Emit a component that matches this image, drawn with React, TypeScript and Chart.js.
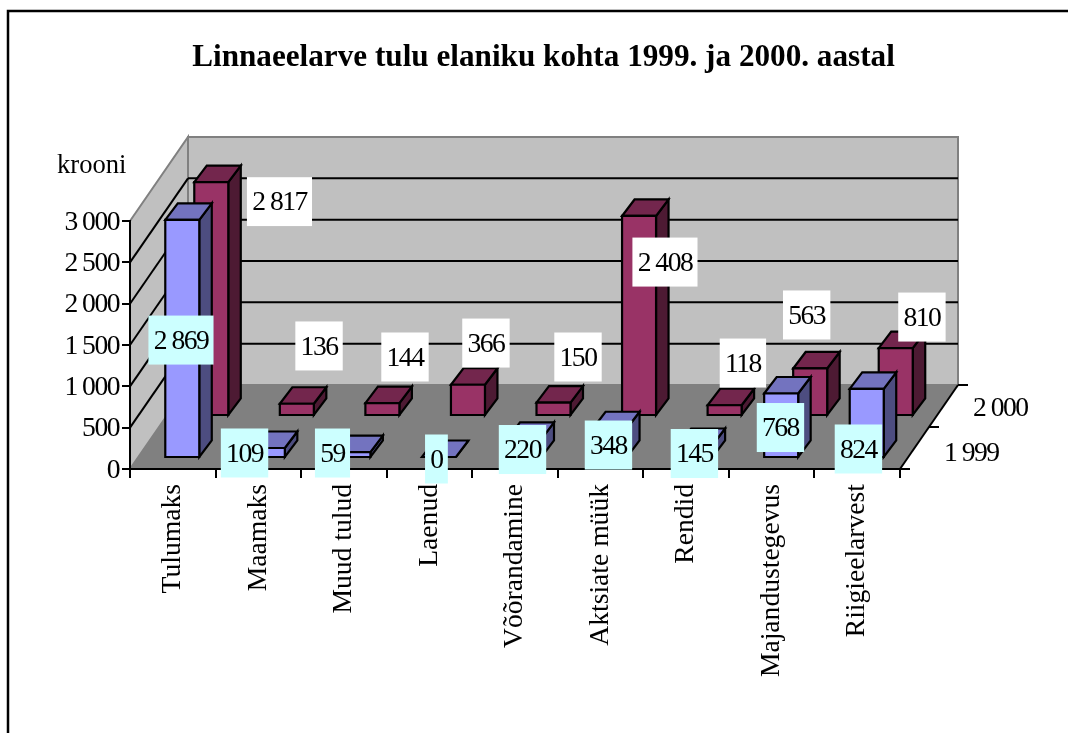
import React, { useEffect, useRef } from "react";
import { Chart, registerables } from "chart.js";

Chart.register(...registerables);

const categories = ["Tulumaks", "Maamaks", "Muud tulud", "Laenud", "Võõrandamine", "Aktsiate müük", "Rendid", "Majandustegevus", "Riigieelarvest"];
const values1999 = [2869, 109, 59, 0, 220, 348, 145, 768, 824];
const values2000 = [2817, 136, 144, 366, 150, 2408, 118, 563, 810];
const seriesNames = ["1 999", "2 000"];
const titleText = "Linnaeelarve tulu elaniku kohta 1999. ja 2000. aastal";
const unitText = "krooni";

// Hand placement of the data-label boxes, relative to (category centre, value pixel).
const nudgeX1999 = [8.2, -13.8, -11.4, 7, 7.5, 7.9, 8.3, 8.8, 1.2];
const nudgeY1999 = [109.2, -6, -10.1, -9, -0.3, 5.8, -2.5, 23, 49.1];
const nudgeX2000 = [106.7, 60.7, 61.1, 56.5, 63, 64.4, 56.8, 35, 64.7];
const nudgeY2000 = [-33.6, -110.8, -99.1, -94.7, -98.6, -6.9, -95.2, -106.5, -84];

const FONT = '"Liberation Serif", "Times New Roman", serif';
const TEXT_SIZE = 27.6;
const DEPTH_X = 58;
const DEPTH_Y = 84;
const BAR_W = 34;
const BAR_DX = 12.5;
const BAR_DY = 16.5;
const STYLES = [
  { face: "#9999FF", top: "#7373BF", side: "#4D4D80", label: "#CCFFFF", dx: 9.5, dy: 12 },
  { face: "#993366", top: "#73264D", side: "#4D1A33", label: "#FFFFFF", dx: 38.5, dy: 54 },
];

const fmt = (v: number) => String(v).replace(/\B(?=(\d{3})+$)/g, " ");

function poly(ctx: CanvasRenderingContext2D, pts: number[][], fill: string | null, stroke: string | null, lw = 2) {
  ctx.beginPath();
  pts.forEach((p, i) => (i ? ctx.lineTo(p[0], p[1]) : ctx.moveTo(p[0], p[1])));
  ctx.closePath();
  if (fill) { ctx.fillStyle = fill; ctx.fill(); }
  if (stroke) { ctx.strokeStyle = stroke; ctx.lineWidth = lw; ctx.lineJoin = "miter"; ctx.stroke(); }
}
function line(ctx: CanvasRenderingContext2D, x1: number, y1: number, x2: number, y2: number, color = "#000", lw = 2) {
  ctx.beginPath();
  ctx.moveTo(x1, y1);
  ctx.lineTo(x2, y2);
  ctx.strokeStyle = color;
  ctx.lineWidth = lw;
  ctx.stroke();
}

const scenePlugin = {
  id: "scene3d",
  beforeDraw(chart: any) {
    const { ctx, chartArea: a, scales } = chart;
    const y = scales.y;
    const { left: l, right: r, top: t, bottom: b } = a;
    ctx.save();
    // frame (top and left only)
    ctx.beginPath();
    ctx.moveTo(8, 733);
    ctx.lineTo(8, 11);
    ctx.lineTo(1068, 11);
    ctx.strokeStyle = "#000";
    ctx.lineWidth = 2.5;
    ctx.stroke();
    // walls and floor
    poly(ctx, [[l, t], [l + DEPTH_X, t - DEPTH_Y], [l + DEPTH_X, b - DEPTH_Y], [l, b]], "#C0C0C0", "#808080", 2);
    poly(ctx, [[l + DEPTH_X, t - DEPTH_Y], [r + DEPTH_X, t - DEPTH_Y], [r + DEPTH_X, b - DEPTH_Y], [l + DEPTH_X, b - DEPTH_Y]], "#C0C0C0", "#808080", 2);
    poly(ctx, [[l, b], [l + DEPTH_X, b - DEPTH_Y], [r + DEPTH_X, b - DEPTH_Y], [r, b]], "#808080", null);
    // gridlines
    y.ticks.forEach((tk: any) => {
      if (tk.value === 0) return;
      const py = y.getPixelForValue(tk.value);
      if (tk.value < 3000) {
        line(ctx, l, py, l + DEPTH_X, py - DEPTH_Y);
        line(ctx, l + DEPTH_X, py - DEPTH_Y, r + DEPTH_X, py - DEPTH_Y);
      }
    });
    ctx.restore();
  },
  afterDatasetsDraw(chart: any) {
    const { ctx, chartArea: a, scales } = chart;
    const { x, y } = scales;
    const { right: r, bottom: b } = a;
    ctx.save();
    // right-hand depth axis
    line(ctx, r, b, r + DEPTH_X, b - DEPTH_Y);
    [0, 1, 2].forEach((i) => {
      const px = r + (DEPTH_X * i) / 2;
      const py = b - (DEPTH_Y * i) / 2;
      line(ctx, px, py, px + 10, py);
    });
    // bars: back series first
    const series = [values2000, values1999];
    const styles = [STYLES[1], STYLES[0]];
    series.forEach((vals, si) => {
      const st = styles[si];
      vals.forEach((v, i) => {
        const x0 = x.getPixelForValue(i) - BAR_W / 2 + st.dx;
        const x1 = x0 + BAR_W;
        const y0 = y.getPixelForValue(0) - st.dy;
        const yt = y.getPixelForValue(v) - st.dy;
        poly(ctx, [[x1, yt], [x1 + BAR_DX, yt - BAR_DY], [x1 + BAR_DX, y0 - BAR_DY], [x1, y0]], st.side, "#000", 2.2);
        poly(ctx, [[x0, yt], [x0 + BAR_DX, yt - BAR_DY], [x1 + BAR_DX, yt - BAR_DY], [x1, yt]], st.top, "#000", 2.2);
        poly(ctx, [[x0, yt], [x1, yt], [x1, y0], [x0, y0]], st.face, "#000", 2.2);
      });
    });
    // texts and data labels
    ctx.fillStyle = "#000";
    ctx.textAlign = "left";
    ctx.textBaseline = "middle";
    ctx.font = `26.6px ${FONT}`;
    ctx.fillText(unitText, 57, 166);
    ctx.font = `${TEXT_SIZE}px ${FONT}`;
    ctx.fillText(seriesNames[0], r + 44, b - 17);
    ctx.fillText(seriesNames[1], r + 73, b - 62);
    const drawLabels = (vals: number[], nx: number[], ny: number[], bg: string) => {
      vals.forEach((v, i) => {
        const cx = x.getPixelForValue(i) + nx[i];
        const cy = y.getPixelForValue(v) + ny[i] - 1;
        const s = fmt(v);
        ctx.letterSpacing = "-1.5px";
        const w = ctx.measureText(s).width + 9 + 1.5;
        ctx.fillStyle = bg;
        ctx.fillRect(cx - w / 2, cy - 24.5, w, 49);
        ctx.fillStyle = "#000";
        ctx.textAlign = "center";
        ctx.fillText(s, cx, cy);
      });
    };
    drawLabels(values2000, nudgeX2000, nudgeY2000, STYLES[1].label);
    drawLabels(values1999, nudgeX1999, nudgeY1999, STYLES[0].label);
    ctx.restore();
  },
};

export default function App() {
  const ref = useRef<HTMLCanvasElement>(null);
  useEffect(() => {
    const canvas = ref.current as HTMLCanvasElement;
    const c2d = canvas.getContext("2d") as any;
    const rawFillText = c2d.fillText.bind(c2d);
    // Numbers in the reference are set tight and sit slightly low.
    c2d.fillText = (s: string, px: number, py: number) => {
      const numeric = /^[\d ]+$/.test(s);
      c2d.letterSpacing = numeric ? "-1.5px" : "0px";
      rawFillText(s, px, numeric ? py + 1.5 : py);
    };
    const chart = new Chart(canvas, {
      type: "bar",
      data: {
        labels: categories,
        datasets: [
          { label: seriesNames[0], data: values1999, backgroundColor: "transparent", borderWidth: 0 },
          { label: seriesNames[1], data: values2000, backgroundColor: "transparent", borderWidth: 0 },
        ],
      },
      plugins: [scenePlugin],
      options: {
        responsive: false,
        animation: false,
        layout: { padding: { left: 19, top: 0, right: 0, bottom: 0 } },
        plugins: {
          legend: { display: false },
          tooltip: { enabled: false },
          title: {
            display: true,
            text: titleText,
            color: "#000",
            font: { family: FONT, size: 31.2, weight: "bold", lineHeight: 1.2 },
            padding: { top: 39, bottom: 144.6 },
          },
        },
        scales: {
          x: {
            afterFit: (s: any) => { s.height = 264; },
            grid: { drawOnChartArea: false, color: "#000", lineWidth: 2, tickLength: 9 },
            border: { color: "#000", width: 2 },
            ticks: { color: "#000", font: { family: FONT, size: TEXT_SIZE }, autoSkip: false, minRotation: 90, maxRotation: 90, padding: 6 },
          },
          y: {
            min: 0,
            max: 3000,
            afterFit: (s: any) => { s.width = 111; },
            grid: { drawOnChartArea: false, color: "#000", lineWidth: 2, tickLength: 8 },
            border: { color: "#000", width: 2 },
            ticks: { stepSize: 500, color: "#000", padding: 3, font: { family: FONT, size: TEXT_SIZE }, callback: (v: any) => fmt(v) },
          },
          depth: {
            type: "linear",
            position: "right",
            afterFit: (s: any) => { s.width = 168; },
            grid: { display: false },
            border: { display: false },
            ticks: { display: false },
          },
        },
      } as any,
    } as any);
    return () => {
      chart.destroy();
      delete c2d.fillText;
    };
  }, []);
  return (
    <div style={{ position: "fixed", left: 0, top: 0, width: 1068, height: 733, background: "#fff" }}>
      <canvas ref={ref} width={1068} height={733} style={{ display: "block" }} />
    </div>
  );
}
